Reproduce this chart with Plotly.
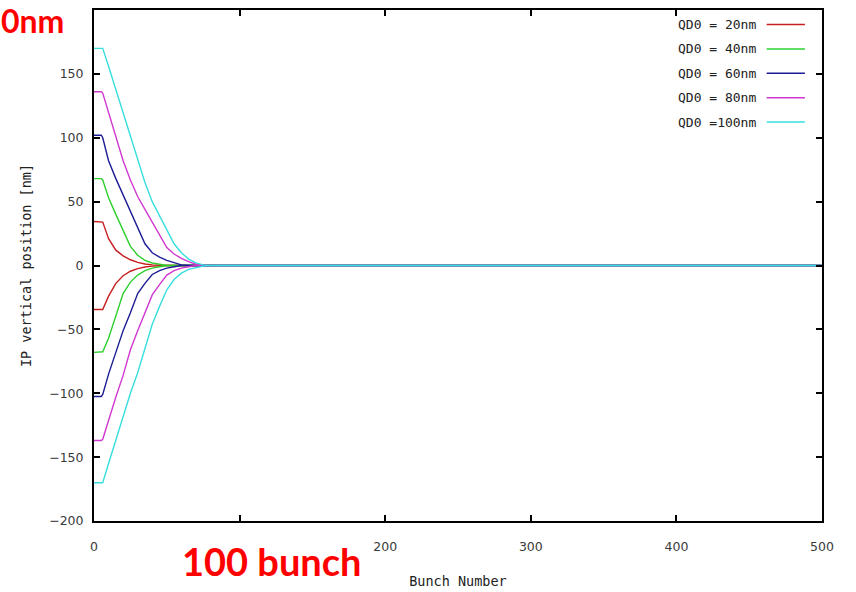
import plotly.graph_objects as go

# Bunch numbers at which the feedback-corrected offsets are sampled
bunch = [0, 5, 6, 10, 15, 20, 25, 30, 35, 40, 45, 50, 55, 60, 65, 70, 75, 80, 500]

# Initial QD0 offsets (legend labels) and colours
labels = ["QD0 = 20nm", "QD0 = 40nm", "QD0 = 60nm", "QD0 = 80nm", "QD0 =100nm"]
colors = ["#c81e1e", "#2ed02e", "#1c1c96", "#d038d0", "#38dede"]

# IP vertical position [nm] for positive initial offsets
pos_20 = [34.5, 34.5, 34, 21, 12, 7.5, 4.5, 2.5, 1.2, 0.5, 0, 0, 0, 0, 0, 0, 0, 0, 0]
pos_40 = [68, 68, 67, 53, 40, 28, 15, 8, 4, 2, 1, 0, 0, 0, 0, 0, 0, 0, 0]
pos_60 = [102, 102, 100, 82, 68, 55, 42, 30, 17, 10, 6.5, 4, 2, 0.5, 0, 0, 0, 0, 0]
pos_80 = [136, 136, 135, 120, 101, 82, 67, 54, 44, 34, 23, 14, 9, 5.5, 3, 1, 0, 0, 0]
pos_100 = [170, 170, 170, 156, 138, 120, 101, 83, 65, 50, 39, 27, 17, 10, 5, 2, 0.5, 0, 0]

# IP vertical position [nm] for negative initial offsets
neg_20 = [-34.5, -34.5, -34.5, -24, -14, -8, -4.5, -2.5, -1.2, -0.5, 0, 0, 0, 0, 0, 0, 0, 0, 0]
neg_40 = [-68, -68, -67.5, -57, -40, -22, -13, -7.5, -4, -2, -1, 0, 0, 0, 0, 0, 0, 0, 0]
neg_60 = [-102.5, -102.5, -101, -85, -68, -51, -37, -22, -14, -7, -4, -2, -1, 0, 0, 0, 0, 0, 0]
neg_80 = [-137, -137, -136, -121, -103, -86, -66, -51, -37, -23, -15, -7.5, -4, -2, -1, 0, 0, 0, 0]
neg_100 = [-170, -170, -170, -155, -136, -118, -100, -84, -64, -46, -32, -19, -11, -6, -3, -1.5, -0.5, 0, 0]

x_ticks = [0, 100, 200, 300, 400, 500]
x_tick_text = ["0", "", "200", "300", "400", "500"]  # the 100 label sits under the slide caption
y_ticks = [-200, -150, -100, -50, 0, 50, 100, 150]

positive = [pos_20, pos_40, pos_60, pos_80, pos_100]
negative = [neg_20, neg_40, neg_60, neg_80, neg_100]

mono = "DejaVu Sans Mono"
tick_font = dict(family="DejaVu Sans", size=12.5, color="#3a3a3a")
title_font = dict(family=mono, size=13.5, color="#222222")

fig = go.Figure()
for name, col, up, down in zip(labels, colors, positive, negative):
    for ys in (up, down):
        fig.add_trace(go.Scatter(
            x=bunch, y=ys, mode="lines", name=name, legendgroup=name,
            showlegend=False, line=dict(color=col, width=1.4),
        ))

# gnuplot-style key: label text on the left, line sample on the right
key_top = 0.9715
key_step = 0.0477
for i, (name, col) in enumerate(zip(labels, colors)):
    yk = key_top - i * key_step
    fig.add_annotation(
        xref="paper", yref="paper", x=0.912, y=yk, text=name,
        showarrow=False, xanchor="right", yanchor="middle",
        font=dict(family=mono, size=13, color="#222222"),
    )
    fig.add_shape(
        type="line", xref="paper", yref="paper",
        x0=0.924, x1=0.9765, y0=yk, y1=yk,
        line=dict(color=col, width=1.4),
    )

axis_common = dict(
    showline=True, linecolor="black", linewidth=2, mirror="ticks",
    ticks="inside", ticklen=6, tickwidth=2, tickcolor="black",
    showgrid=False, zeroline=False, tickfont=tick_font, automargin=False,
)

fig.update_xaxes(
    range=[0, 500], tickvals=x_ticks, ticktext=x_tick_text, ticklabelstandoff=13,
    title=dict(text="Bunch Number", font=title_font, standoff=24),
    **axis_common,
)
fig.update_yaxes(
    range=[-200, 200], tickvals=y_ticks, ticklabelstandoff=6,
    title=dict(text="IP vertical position [nm]", font=title_font, standoff=14),
    **axis_common,
)

# Red slide captions
fig.add_annotation(
    xref="paper", yref="paper", x=-0.131, y=1.022, text="<b>0nm</b>",
    showarrow=False, xanchor="left", yanchor="top",
    font=dict(family="Lato", size=32, color="#ff0000"),
)
fig.add_annotation(
    xref="paper", yref="paper", x=0.118, y=-0.03, text="<b>100 bunch</b>",
    showarrow=False, xanchor="left", yanchor="top",
    font=dict(family="Lato", size=38, color="#ff0000"),
)

fig.update_layout(
    width=856, height=592,
    margin=dict(l=94, r=34, t=10, b=71),
    paper_bgcolor="white", plot_bgcolor="white",
    showlegend=False,
)

fig.write_html("out.html")
